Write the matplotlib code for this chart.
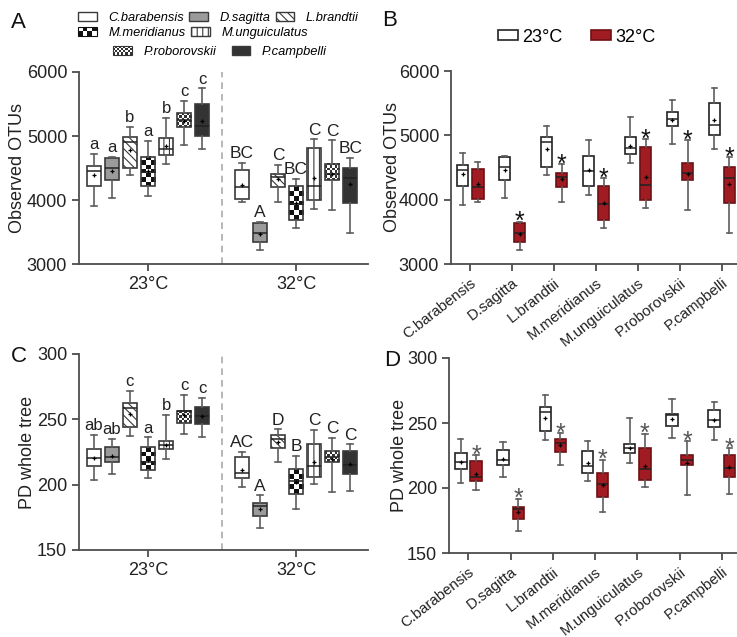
import numpy as np
import matplotlib
matplotlib.use("Agg")
import matplotlib.pyplot as plt
import matplotlib.patches as mpatches
from matplotlib.colors import ListedColormap
from matplotlib.legend_handler import HandlerBase

plt.rcParams['font.family'] = ['Liberation Sans', 'DejaVu Sans']
plt.rcParams['hatch.linewidth'] = 0.8

species = ["C.barabensis", "D.sagitta", "L.brandtii", "M.meridianus",
           "M.unguiculatus", "P.roborovskii", "P.campbelli"]
temps = ["23°C", "32°C"]

# box stats per species: whisker low, q1, median, q3, whisker high, mean
otu_23 = [[3912, 4217, 4460, 4538, 4724, 4398],
          [4026, 4305, 4502, 4657, 4678, 4460],
          [4383, 4502, 4900, 4978, 5148, 4786],
          [4067, 4212, 4445, 4672, 4921, 4460],
          [4564, 4709, 4797, 4967, 5278, 4838],
          [4864, 5148, 5247, 5361, 5547, 5236],
          [4792, 5004, 5159, 5500, 5743, 5236]]
otu_32 = [[3964, 4016, 4202, 4476, 4579, 4238],
          [3214, 3348, 3478, 3633, 3659, 3472],
          [3969, 4202, 4352, 4409, 4553, 4321],
          [3565, 3690, 3938, 4217, 4331, 3948],
          [3865, 4000, 4222, 4812, 4947, 4347],
          [3845, 4310, 4409, 4564, 4931, 4403],
          [3488, 3948, 4341, 4507, 4657, 4248]]
pd_23 = [[203.8, 214.4, 220.3, 227.2, 237.9, 220.3],
         [208.5, 217.4, 221.5, 229.2, 235.1, 222.0],
         [236.9, 243.8, 258.5, 262.6, 271.8, 253.8],
         [205.4, 211.5, 217.2, 228.5, 236.2, 219.0],
         [219.5, 227.2, 230.5, 233.6, 253.6, 230.5],
         [238.5, 247.4, 256.2, 256.7, 268.5, 253.1],
         [236.7, 246.7, 252.6, 259.7, 266.2, 252.6]]
pd_32 = [[198.2, 205.1, 208.7, 220.8, 225.1, 211.0],
         [167.2, 176.2, 183.6, 185.6, 191.8, 181.3],
         [217.7, 227.7, 234.9, 237.7, 242.3, 232.8],
         [181.5, 193.1, 203.1, 211.8, 221.8, 202.3],
         [200.8, 206.2, 214.6, 231.0, 241.8, 217.2],
         [194.6, 217.4, 221.5, 225.6, 235.9, 219.5],
         [195.4, 208.5, 215.4, 225.6, 230.8, 215.9]]

otu_letters_23 = ["a", "a", "b", "a", "b", "c", "c"]
otu_letters_32 = ["BC", "A", "C", "BC", "C", "C", "BC"]
pd_letters_23 = ["ab", "ab", "c", "a", "b", "c", "c"]
pd_letters_32 = ["AC", "A", "D", "B", "C", "C", "C"]
otu_stars = ["", "*", "*", "*", "*", "*", "*"]
pd_stars = ["*", "*", "*", "*", "*", "*", "*"]

# styles
faces = ["white", "#9b9b9b", "white", "none", "white", "none", "#333333"]
hatches = [None, None, "\\\\\\\\", None, "|||", None, None]
checker_px = [0, 0, 0, 4.5, 0, 2.4, 0]
red = "#a01c22"
red_edge = "#6e1014"
edge = "#3a3a3a"
wcol = "#5e5e5e"
spine_col = "#4d4d4d"


def box_stats(rows):
    return [dict(whislo=r[0], q1=r[1], med=r[2], q3=r[3], whishi=r[4],
                 mean=r[5], fliers=[]) for r in rows]


def add_checker(ax, patch, size_px, dark):
    ext = patch.get_path().get_extents()
    (x0, y0), (x1, y1) = ax.transData.transform([[ext.x0, ext.y0], [ext.x1, ext.y1]])
    nx = max(1, int(round((x1 - x0) / size_px)))
    ny = max(1, int(round((y1 - y0) / size_px)))
    grid = np.indices((ny, nx)).sum(axis=0) % 2
    ax.imshow(grid, extent=(ext.x0, ext.x1, ext.y0, ext.y1), origin="lower",
              cmap=ListedColormap(["white", dark]), interpolation="nearest",
              aspect="auto", zorder=1.9)


def draw_boxes(ax, rows, pos, width, fcs, hts, chk, ec):
    res = ax.bxp(box_stats(rows), positions=pos, widths=width, capwidths=width * 0.45,
                 patch_artist=True, showmeans=True, showfliers=False,
                 boxprops=dict(linewidth=1.2),
                 whiskerprops=dict(color=wcol, linewidth=1.2),
                 capprops=dict(color=wcol, linewidth=1.2),
                 medianprops=dict(color="#222222", linewidth=1.1),
                 meanprops=dict(marker="+", markersize=3.5, markeredgecolor="black",
                                markeredgewidth=0.9))
    for i, b in enumerate(res["boxes"]):
        b.set_facecolor(fcs[i])
        b.set_edgecolor(ec[i])
        if hts[i]:
            b.set_hatch(hts[i])
        if chk[i]:
            add_checker(ax, b, chk[i], "#111111" if chk[i] > 3 else "#333333")
    return res


def style_axes(ax):
    for s in ["top", "right"]:
        ax.spines[s].set_visible(False)
    for s in ["left", "bottom"]:
        ax.spines[s].set_color(spine_col)
        ax.spines[s].set_linewidth(1.3)
    ax.tick_params(colors=spine_col, width=1.3, length=5, labelsize=13,
                   labelcolor="#222222")


def label_boxes(ax, rows, pos, texts, size, color, dy, va="baseline"):
    for r, p, t in zip(rows, pos, texts):
        if t:
            ax.annotate(t, (p, r[4]), xytext=(0, dy), textcoords="offset points",
                        ha="center", va=va, fontsize=size, color=color,
                        annotation_clip=False)


fig = plt.figure(figsize=(7.37, 6.37), dpi=100)
W, H = 737, 637


def px_axes(left, right, top, bottom):
    return fig.add_axes([left / W, 1 - bottom / H, (right - left) / W, (bottom - top) / H])


spacing = 0.122
grp_pos23 = [0 + (i - 3) * spacing for i in range(7)]
grp_pos32 = [1 + (i - 3) * spacing for i in range(7)]
sp_pos = np.arange(7)
pos_b23 = sp_pos - 0.18
pos_b32 = sp_pos + 0.18

# ---- panels A and C
for (l, r, t, b), d23, d32, l23, l32, ylim, yt, ylab, labx in [
        ((79, 368, 72, 264), otu_23, otu_32, otu_letters_23, otu_letters_32,
         (3000, 6000), [3000, 4000, 5000, 6000], "Observed OTUs", -0.183),
        ((79, 368, 354, 550), pd_23, pd_32, pd_letters_23, pd_letters_32,
         (150, 300), [150, 200, 250, 300], "PD whole tree", -0.149)]:
    ax = px_axes(l, r, t, b)
    ax.set_xlim(-0.466, 1.486)
    ax.set_ylim(*ylim)
    style_axes(ax)
    draw_boxes(ax, d23, grp_pos23, 0.095, faces, hatches, checker_px, [edge] * 7)
    draw_boxes(ax, d32, grp_pos32, 0.095, faces, hatches, checker_px, [edge] * 7)
    label_boxes(ax, d23, grp_pos23, l23, 12, "#222222", 3.5)
    label_boxes(ax, d32, grp_pos32, l32, 12.5, "#222222", 3.5)
    ax.axvline(0.5, color="#aaaaaa", linestyle=(0, (4, 3)), linewidth=1.2)
    ax.set_xticks([0, 1])
    ax.set_xticklabels(temps)
    ax.set_xlim(-0.466, 1.486)
    ax.set_ylim(*ylim)
    ax.set_yticks(yt)
    ax.set_ylabel(ylab, fontsize=13, color="#222222")
    ax.yaxis.set_label_coords(labx, 0.5)

# ---- panels B and D
for (l, r, t, b), d23, d32, stars, scol, ylim, yt, ylab, labx in [
        ((451, 737, 71, 264), otu_23, otu_32, otu_stars, "#111111",
         (3000, 6000), [3000, 4000, 5000, 6000], "Observed OTUs", -0.175),
        ((449, 737, 358, 553), pd_23, pd_32, pd_stars, "#555555",
         (150, 300), [150, 200, 250, 300], "PD whole tree", -0.142)]:
    ax = px_axes(l, r, t, b)
    ax.set_xlim(-0.46, 6.36)
    ax.set_ylim(*ylim)
    style_axes(ax)
    draw_boxes(ax, d23, pos_b23, 0.27, ["white"] * 7, [None] * 7, [0] * 7, ["#222222"] * 7)
    draw_boxes(ax, d32, pos_b32, 0.27, [red] * 7, [None] * 7, [0] * 7, [red_edge] * 7)
    label_boxes(ax, d32, pos_b32, stars, 18, scol, -5.5)
    ax.set_xticks(sp_pos)
    ax.set_xticklabels(species, rotation=38, ha="right", rotation_mode="anchor",
                       fontsize=10.8)
    ax.set_xlim(-0.46, 6.36)
    ax.set_ylim(*ylim)
    ax.set_yticks(yt)
    ax.set_ylabel(ylab, fontsize=13, color="#222222")
    ax.yaxis.set_label_coords(labx, 0.5)


# ---- legends
class CheckerHandler(HandlerBase):
    def __init__(self, cell, dark):
        super().__init__()
        self.cell = cell
        self.dark = dark

    def create_artists(self, legend, orig_handle, xdescent, ydescent, width, height,
                       fontsize, trans):
        nx = max(2, int(round(width / self.cell)))
        ny = max(2, int(round(height / self.cell)))
        w, h = width / nx, height / ny
        arts = []
        for i in range(nx):
            for j in range(ny):
                if (i + j) % 2 == 0:
                    arts.append(mpatches.Rectangle((-xdescent + i * w, -ydescent + j * h), w, h,
                                                   facecolor=self.dark, edgecolor="none",
                                                   transform=trans))
        arts.append(mpatches.Rectangle((-xdescent, -ydescent), width, height,
                                       facecolor="none", edgecolor=self.dark,
                                       linewidth=0.8, transform=trans))
        return arts


handles = []
for i in range(7):
    handles.append(mpatches.Patch(facecolor=faces[i] if faces[i] != "none" else "white",
                                  edgecolor=edge, hatch=hatches[i], linewidth=1.0))
hmap = {handles[3]: CheckerHandler(3.0, "#111111"), handles[5]: CheckerHandler(1.5, "#333333")}
leg_kw = dict(frameon=False, prop=dict(style="italic", size=9.3), handlelength=1.45,
              handleheight=0.6, handletextpad=0.9, borderpad=0, borderaxespad=0,
              handler_map=hmap, loc="center left")
fig.legend(handles[0:3], species[0:3], ncol=3, columnspacing=0.4,
           bbox_to_anchor=(78 / W, 1 - 18 / H), **leg_kw)
fig.legend(handles[3:5], species[3:5], ncol=2, columnspacing=0.4,
           bbox_to_anchor=(78 / W, 1 - 33 / H), **leg_kw)
fig.legend(handles[5:7], species[5:7], ncol=2, columnspacing=1.2,
           bbox_to_anchor=(113 / W, 1 - 52 / H), **leg_kw)

temp_handles = [mpatches.Patch(facecolor="white", edgecolor="#222222", linewidth=1.2),
                mpatches.Patch(facecolor=red, edgecolor=red_edge, linewidth=1.2)]
fig.legend(temp_handles, temps, ncol=2, loc="center", frameon=False, fontsize=13,
           handlelength=1.1, handleheight=0.5, handletextpad=0.25, columnspacing=1.6,
           bbox_to_anchor=(577 / W, 1 - 37 / H))

# panel letters
for txt, x, y in [("A", 11, 12), ("B", 382, 10), ("C", 11, 346), ("D", 384, 350)]:
    fig.text(x / W, 1 - y / H, txt, fontsize=16, ha="left", va="top", color="#111111")

fig.savefig("out.png", dpi=100)
